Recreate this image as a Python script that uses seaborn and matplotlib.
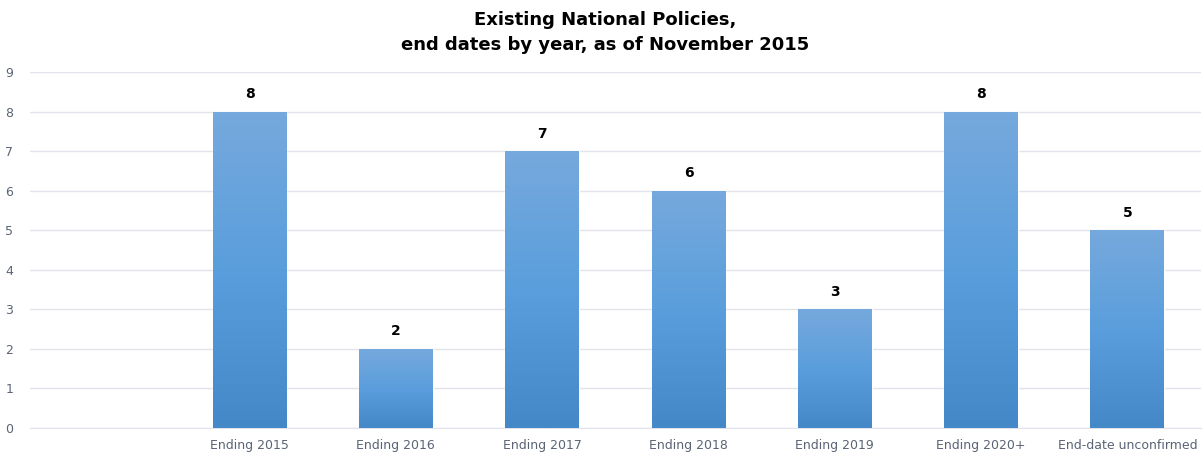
import numpy as np
import pandas as pd
import seaborn as sns
import matplotlib
matplotlib.use("Agg")
from matplotlib import pyplot as plt
from matplotlib.colors import LinearSegmentedColormap

categories = ["", "Ending 2015", "Ending 2016", "Ending 2017", "Ending 2018",
              "Ending 2019", "Ending 2020+", "End-date unconfirmed"]
counts = [np.nan, 8, 2, 7, 6, 3, 8, 5]

df = pd.DataFrame({"category": categories, "count": counts})

sns.set_style("white")
plt.rcParams["font.family"] = ["DejaVu Sans"]

fig = plt.figure(figsize=(12.03, 4.58), dpi=100)
ax = fig.add_axes([0.025, 0.0655, 0.973, 0.777])

sns.barplot(data=df.dropna(), x="category", y="count", order=categories,
            color="#5b9bd5", width=0.505, ax=ax, saturation=1)

ax.set_xlim(-0.5, len(categories) - 0.5)
ax.set_ylim(0, 9)

# vertical gradient on each bar (lighter top, darker bottom)
cmap = LinearSegmentedColormap.from_list("bar", ["#4488c8", "#5a9edd", "#76a9dc"])
grad = np.linspace(0, 1, 256).reshape(-1, 1)
for p in ax.patches:
    h = p.get_height()
    if not np.isfinite(h) or h == 0:
        continue
    x0 = p.get_x()
    w = p.get_width()
    im = ax.imshow(grad, cmap=cmap, aspect="auto", origin="lower",
                   extent=[x0, x0 + w, 0, h], zorder=3)
    im.set_clip_path(p)
    ax.text(x0 + w / 2, h + 0.27, f"{int(h)}", ha="center", va="bottom",
            fontsize=10, fontweight="bold", color="black", zorder=4)

ax.set_xlim(-0.5, len(categories) - 0.5)
ax.set_ylim(0, 9)

ax.set_yticks(range(0, 10))
ax.yaxis.grid(True, color="#e1e4ea", linewidth=1)
ax.set_axisbelow(True)
for s in ["top", "right", "left"]:
    ax.spines[s].set_visible(False)
ax.spines["bottom"].set_color("#e1e4ea")
ax.tick_params(axis="both", length=0, labelsize=9, colors="#5a6475", pad=8)
ax.tick_params(axis="y", pad=12)
ax.set_xlabel("")
ax.set_ylabel("")

fig.suptitle("Existing National Policies,\nend dates by year, as of November 2015",
             x=0.503, y=0.975, fontsize=13, fontweight="bold", color="black",
             linespacing=1.5)

fig.savefig("out.png", dpi=100)
